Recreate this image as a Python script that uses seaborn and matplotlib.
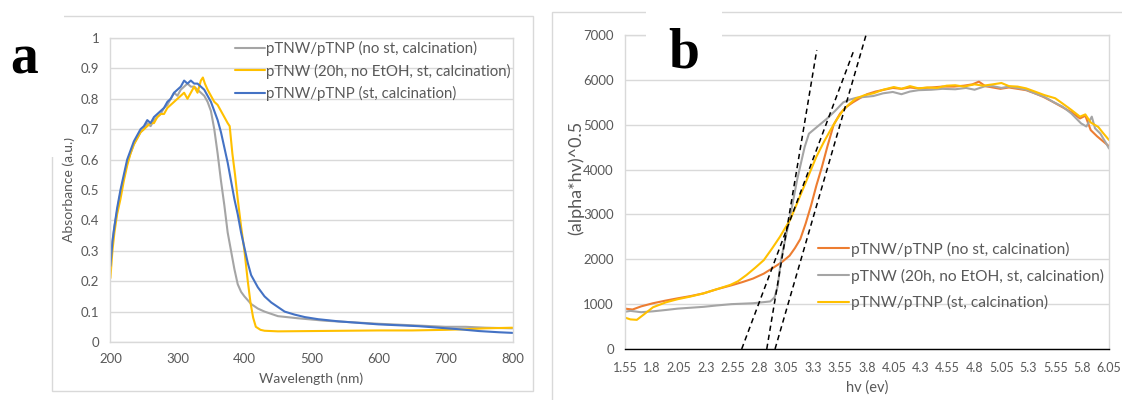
import matplotlib.pyplot as plt
import matplotlib.patches as mpatches
import seaborn as sns

# ---------- panel a : absorbance spectra ----------
wl_no_st = [200, 203, 206, 210, 215, 220, 225, 230, 235, 240, 245, 250, 255, 260, 265, 270, 275, 280,
            285, 290, 295, 300, 305, 310, 315, 320, 325, 330, 335, 340, 345, 350, 355, 360, 365, 370,
            375, 380, 385, 390, 395, 400, 410, 420, 430, 450, 480, 520, 560, 600, 650, 700, 730, 760, 800]
abs_no_st = [0.26, 0.33, 0.38, 0.43, 0.49, 0.54, 0.59, 0.62, 0.65, 0.67, 0.69, 0.70, 0.72, 0.71, 0.73,
             0.74, 0.75, 0.77, 0.78, 0.80, 0.82, 0.81, 0.83, 0.84, 0.85, 0.84, 0.84, 0.83, 0.82, 0.81,
             0.79, 0.76, 0.70, 0.62, 0.53, 0.45, 0.36, 0.30, 0.24, 0.19, 0.165, 0.15, 0.125, 0.11, 0.10,
             0.085, 0.078, 0.07, 0.065, 0.06, 0.055, 0.05, 0.05, 0.047, 0.045]

wl_20h = [200, 203, 206, 210, 215, 220, 225, 230, 235, 240, 245, 250, 255, 260, 265, 270, 275, 280,
          285, 290, 295, 300, 305, 310, 315, 320, 325, 330, 335, 338, 341, 345, 350, 355, 360, 365,
          370, 375, 378, 382, 386, 390, 395, 400, 405, 409, 413, 417, 424, 430, 450, 500, 550, 600,
          650, 700, 730, 760, 800]
abs_20h = [0.21, 0.30, 0.36, 0.42, 0.47, 0.53, 0.58, 0.62, 0.65, 0.67, 0.69, 0.70, 0.71, 0.72, 0.72,
           0.74, 0.75, 0.75, 0.77, 0.78, 0.79, 0.80, 0.81, 0.82, 0.80, 0.82, 0.84, 0.82, 0.86, 0.87,
           0.85, 0.83, 0.81, 0.79, 0.78, 0.76, 0.74, 0.72, 0.71, 0.62, 0.55, 0.47, 0.38, 0.30, 0.20,
           0.13, 0.08, 0.05, 0.04, 0.037, 0.035, 0.036, 0.037, 0.038, 0.038, 0.04, 0.042, 0.045, 0.047]

wl_st = [200, 203, 206, 210, 215, 220, 225, 230, 235, 240, 245, 250, 255, 260, 265, 270, 275, 280,
         285, 290, 295, 300, 305, 310, 315, 320, 325, 330, 335, 340, 345, 350, 355, 360, 365, 370,
         375, 380, 385, 390, 395, 400, 405, 410, 420, 430, 440, 450, 460, 475, 490, 510, 540, 570,
         600, 630, 660, 690, 720, 750, 780, 800]
abs_st = [0.25, 0.33, 0.38, 0.44, 0.50, 0.55, 0.60, 0.63, 0.66, 0.68, 0.70, 0.71, 0.73, 0.72, 0.74,
          0.75, 0.76, 0.77, 0.79, 0.80, 0.82, 0.83, 0.84, 0.86, 0.85, 0.86, 0.85, 0.85, 0.84, 0.83,
          0.81, 0.79, 0.76, 0.73, 0.69, 0.64, 0.59, 0.53, 0.47, 0.42, 0.36, 0.31, 0.26, 0.22, 0.18,
          0.15, 0.13, 0.115, 0.10, 0.09, 0.082, 0.075, 0.068, 0.063, 0.058, 0.055, 0.052, 0.047,
          0.042, 0.036, 0.032, 0.03]

# ---------- panel b : Tauc plot ----------
hv_no_st = [1.55, 1.62, 1.70, 1.81, 1.93, 2.04, 2.16, 2.28, 2.40, 2.54, 2.64, 2.74, 2.84, 2.94, 3.01,
            3.08, 3.13, 3.18, 3.23, 3.28, 3.33, 3.38, 3.43, 3.49, 3.55, 3.61, 3.67, 3.74, 3.80, 3.88,
            3.96, 4.04, 4.12, 4.20, 4.28, 4.40, 4.50, 4.61, 4.70, 4.78, 4.84, 4.90, 4.97, 5.04, 5.12,
            5.20, 5.28, 5.36, 5.44, 5.52, 5.61, 5.70, 5.78, 5.83, 5.88, 5.94, 6.00, 6.05]
tauc_no_st = [900, 880, 950, 1020, 1080, 1130, 1180, 1240, 1330, 1420, 1490, 1570, 1680, 1830, 1940,
              2080, 2250, 2450, 2800, 3200, 3650, 4050, 4500, 5000, 5250, 5400, 5500, 5600, 5680, 5740,
              5780, 5820, 5800, 5830, 5810, 5830, 5850, 5850, 5870, 5900, 5960, 5860, 5830, 5800, 5830,
              5800, 5770, 5700, 5620, 5520, 5400, 5280, 5140, 5200, 4880, 4740, 4620, 4520]

hv_20h = [1.55, 1.60, 1.70, 1.81, 1.93, 2.04, 2.16, 2.28, 2.40, 2.54, 2.64, 2.74, 2.82, 2.90, 2.94,
          2.97, 3.00, 3.04, 3.085, 3.15, 3.22, 3.26, 3.30, 3.36, 3.43, 3.50, 3.58, 3.64, 3.70, 3.78,
          3.86, 3.95, 4.04, 4.12, 4.20, 4.28, 4.40, 4.50, 4.62, 4.72, 4.80, 4.90, 4.97, 5.05, 5.12,
          5.20, 5.28, 5.36, 5.45, 5.53, 5.62, 5.70, 5.79, 5.84, 5.89, 5.92, 5.97, 6.02, 6.05]
tauc_20h = [830, 850, 820, 840, 870, 900, 920, 940, 970, 1000, 1010, 1020, 1040, 1060, 1150,
            1400, 1980, 2450, 2950, 3770, 4500, 4800, 4880, 5000, 5140, 5300, 5500, 5560, 5600, 5620,
            5640, 5700, 5730, 5680, 5740, 5770, 5780, 5800, 5790, 5820, 5780, 5860, 5860, 5820, 5850,
            5820, 5780, 5700, 5620, 5510, 5400, 5250, 5030, 4960, 5180, 4920, 4800, 4600, 4470]

hv_st = [1.55, 1.60, 1.66, 1.72, 1.81, 1.93, 2.04, 2.16, 2.28, 2.40, 2.53, 2.60, 2.68, 2.76, 2.84,
         2.92, 2.99, 3.085, 3.15, 3.24, 3.33, 3.40, 3.46, 3.52, 3.58, 3.64, 3.70, 3.78, 3.86, 3.95,
         4.05, 4.12, 4.20, 4.28, 4.36, 4.45, 4.54, 4.62, 4.70, 4.80, 4.88, 4.97, 5.05, 5.12, 5.20,
         5.28, 5.36, 5.45, 5.55, 5.62, 5.70, 5.78, 5.83, 5.88, 5.95, 6.00, 6.05]
tauc_st = [700, 660, 650, 760, 930, 1040, 1110, 1170, 1240, 1330, 1430, 1510, 1650, 1810, 1980,
           2250, 2500, 2880, 3250, 3770, 4290, 4620, 4880, 5120, 5330, 5470, 5590, 5660, 5700, 5780,
           5840, 5800, 5860, 5810, 5830, 5820, 5870, 5880, 5850, 5900, 5870, 5900, 5930, 5860, 5850,
           5810, 5740, 5660, 5590, 5470, 5330, 5180, 5230, 5050, 4950, 4800, 4660]

# tangent lines (start, end) used for the band-gap extrapolation
tangent_hv = [[2.635, 3.673], [2.868, 3.333], [2.945, 3.791]]
tangent_val = [[0, 6627], [0, 6665], [0, 7000]]

labels_a = ['pTNW/pTNP (no st, calcination)', 'pTNW (20h, no EtOH, st, calcination)',
            'pTNW/pTNP (st, calcination)']
wl_ticks = [200, 300, 400, 500, 600, 700, 800]
abs_ticks = [0, 0.1, 0.2, 0.3, 0.4, 0.5, 0.6, 0.7, 0.8, 0.9, 1]
hv_ticks = [1.55, 1.8, 2.05, 2.3, 2.55, 2.8, 3.05, 3.3, 3.55, 3.8, 4.05, 4.3, 4.55, 4.8, 5.05,
            5.3, 5.55, 5.8, 6.05]
tauc_ticks = [0, 1000, 2000, 3000, 4000, 5000, 6000, 7000]

GRAY, YELLOW, BLUE, ORANGE = '#A5A5A5', '#FFC000', '#4472C4', '#ED7D31'
TXT, GRID = '#595959', '#D9D9D9'

sns.set_theme(style='white')
plt.rcParams['font.family'] = ['Lato', 'DejaVu Sans']

W, H = 1122, 400
fig = plt.figure(figsize=(W / 100, H / 100), dpi=100)


def rect(x0, y0, x1, y1):
    return [x0 / W, 1 - y1 / H, (x1 - x0) / W, (y1 - y0) / H]


# chart-area frames and the white boxes behind the panel letters
for (x0, y0, x1, y1) in [(52, 16, 533, 391), (552, 12, 1140, 420)]:
    fig.add_artist(mpatches.Rectangle((x0 / W, 1 - y1 / H), (x1 - x0) / W, (y1 - y0) / H,
                                      transform=fig.transFigure, fill=False, ec=GRID, lw=1))
for (x0, y0, x1, y1) in [(0, 0, 64, 157), (646, 0, 722, 75)]:
    fig.add_artist(mpatches.Rectangle((x0 / W, 1 - y1 / H), (x1 - x0) / W, (y1 - y0) / H,
                                      transform=fig.transFigure, fc='white', ec='none', zorder=5))

# ---- panel a ----
ax1 = fig.add_axes(rect(110.4, 38, 512.5, 342))
for x, y, c, lab in zip([wl_no_st, wl_20h, wl_st], [abs_no_st, abs_20h, abs_st],
                        [GRAY, YELLOW, BLUE], labels_a):
    sns.lineplot(x=x, y=y, ax=ax1, color=c, lw=1.5, label=lab, sort=False, estimator=None)
ax1.set_xlim(200, 800)
ax1.set_ylim(0, 1)
ax1.set_xticks(wl_ticks)
ax1.set_yticks(abs_ticks)
ax1.set_yticklabels([f'{t:g}' for t in abs_ticks])
ax1.grid(axis='y', color=GRID, lw=1)
ax1.set_axisbelow(True)
for s in ax1.spines.values():
    s.set_color(GRID)
    s.set_linewidth(1)
ax1.tick_params(length=0, labelsize=9.5, labelcolor=TXT, pad=8)
ax1.set_xlabel('Wavelength (nm)', fontsize=10, color=TXT)
ax1.set_ylabel('Absorbance (a.u.)', fontsize=10, color=TXT)
ax1.xaxis.set_label_coords(0.5, -0.1)
ax1.yaxis.set_label_coords(-0.087, 0.5)
ax1.legend(loc='center left', bbox_to_anchor=(235 / W, 1 - 71 / H), bbox_transform=fig.transFigure,
           frameon=False, fontsize=10.8, labelcolor=TXT, handlelength=2.0, handletextpad=0.1,
           labelspacing=0.5, borderpad=0, borderaxespad=0)

# ---- panel b ----
ax2 = fig.add_axes(rect(625, 35, 1109, 349))
for x, y, c, lab in zip([hv_no_st, hv_20h, hv_st], [tauc_no_st, tauc_20h, tauc_st],
                        [ORANGE, GRAY, YELLOW], labels_a):
    sns.lineplot(x=x, y=y, ax=ax2, color=c, lw=1.5, label=lab, sort=False, estimator=None)
for x, y in zip(tangent_hv, tangent_val):
    sns.lineplot(x=x, y=y, ax=ax2, color='black', lw=1.1, linestyle=(0, (3.5, 2.5)),
                 legend=False, zorder=4)
ax2.set_xlim(1.55, 6.05)
ax2.set_ylim(0, 7000)
ax2.set_xticks(hv_ticks)
ax2.set_xticklabels([f'{t:g}' for t in hv_ticks])
ax2.set_yticks(tauc_ticks)
ax2.grid(axis='y', color=GRID, lw=1)
ax2.set_axisbelow(True)
for s in ax2.spines.values():
    s.set_color(GRID)
    s.set_linewidth(1)
ax2.spines['bottom'].set_color('black')
ax2.tick_params(axis='y', length=0, labelsize=9.5, labelcolor=TXT, pad=8)
ax2.tick_params(axis='x', length=4, width=1, color='black', direction='out',
                labelsize=9, labelcolor=TXT, pad=5)
ax2.set_xlabel('hv (ev)', fontsize=10.5, color=TXT)
ax2.set_ylabel('(alpha*hv)^0.5', fontsize=13, color=TXT)
ax2.xaxis.set_label_coords(0.5, -0.1)
ax2.yaxis.set_label_coords(-0.085, 0.545)
ax2.legend(loc='center left', bbox_to_anchor=(818 / W, 1 - 276 / H), bbox_transform=fig.transFigure,
           frameon=False, fontsize=11.2, labelcolor=TXT, handlelength=2.0, handletextpad=0.1,
           labelspacing=0.75, borderpad=0, borderaxespad=0)

# panel letters
fig.text(10 / W, 1 - 73 / H, 'a', family='Liberation Serif', weight='bold', fontsize=40,
         color='black', zorder=6)
fig.text(668 / W, 1 - 67 / H, 'b', family='Liberation Serif', weight='bold', fontsize=40,
         color='black', zorder=6)

fig.savefig('out.png', dpi=100)
